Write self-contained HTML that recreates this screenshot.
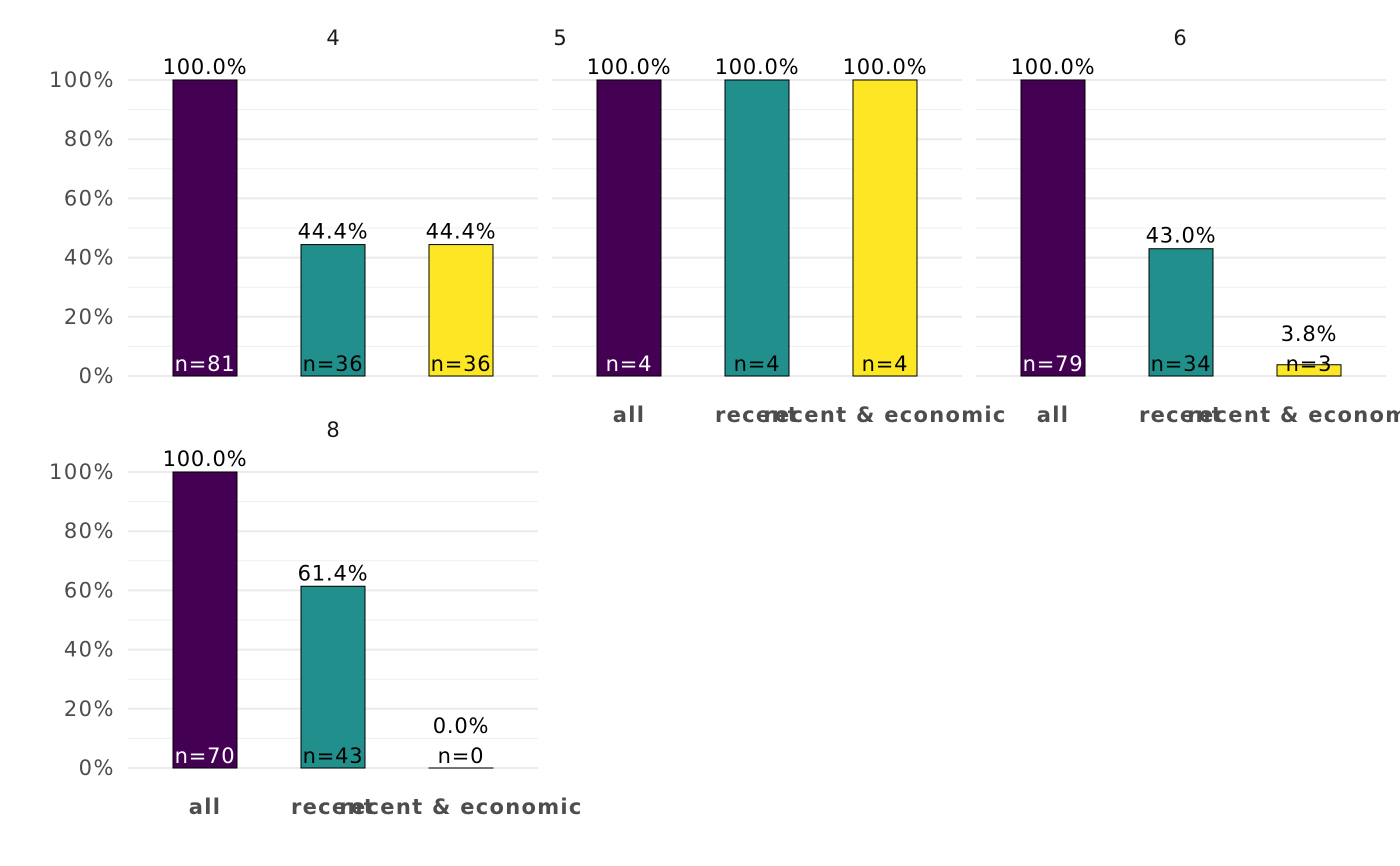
<!DOCTYPE html>
<html><head><meta charset="utf-8"><style>
body{margin:0;background:#fff}
svg{display:block;font-family:"DejaVu Sans","Liberation Sans",sans-serif}
</style></head><body>
<svg id="chart" width="1400" height="866" xmlns="http://www.w3.org/2000/svg"></svg>
<script>
const facets = ["4","5","6","8"];
const categories = ["all","recent","recent & economic"];
const pctValues = [[100,44.4,44.4],[100,100,100],[100,43.0,3.8],[100,61.4,0.0]];
const nValues = [[81,36,36],[4,4,4],[79,34,3],[70,43,0]];
const yTicks = [0,20,40,60,80,100];
const colors = ["#440154","#21908C","#FDE725"];
const nColors = ["#fff","#000","#000"];
const panels = [
 {x0:128,y0:376,title:"4",titleX:333,titleY:38,xlab:false},
 {x0:552,y0:376,title:"5",titleX:560,titleY:38,xlab:true},
 {x0:976,y0:376,title:"6",titleX:1180,titleY:38,xlab:true},
 {x0:128,y0:768,title:"8",titleX:333,titleY:430,xlab:true}
];
const svg = document.getElementById('chart');
const NS = "http://www.w3.org/2000/svg";
function mk(tag, attrs, txt){const e=document.createElementNS(NS,tag);for(const k in attrs)e.setAttribute(k,attrs[k]);if(txt!==undefined)e.textContent=txt;svg.appendChild(e);return e;}
const W=410, H=296;
panels.forEach((p,pi)=>{
  const y = v => p.y0 - v/100*H;
  const x = i => p.x0 + 77 + i*128;
  for(let v=10; v<100; v+=20){
    const g=mk('line',{x1:p.x0,x2:p.x0+W,y1:y(v),y2:y(v),stroke:'#efefef','stroke-width':1});
    
    
  }
  yTicks.forEach(t=>{
    const g=mk('line',{x1:p.x0,x2:p.x0+W,y1:y(t),y2:y(t),stroke:'#ebebeb','stroke-width':2});
    
    
    if(p.x0===128){
      const l=mk('text',{x:115,y:y(t)+7,'text-anchor':'end','font-size':21,'letter-spacing':1.5,fill:'#4d4d4d'},t+'%');
      
      
    }
  });
  const tt=mk('text',{x:p.titleX,y:p.titleY+7,'text-anchor':'middle','font-size':21,fill:'#1a1a1a'},p.title);
  
  
  categories.forEach((c,i)=>{
    const v=pctValues[pi][i], cx=x(i);
    const r=mk('rect',{x:cx-32,y:y(v),width:64,height:Math.max(y(0)-y(v),0.01),fill:colors[i],stroke:'#000','stroke-width':1});
    
    
    const ly=Math.min(y(v)-13, y(0)-42);
    const vl=mk('text',{x:cx,y:ly+7,'text-anchor':'middle','font-size':21,'letter-spacing':0.8,fill:'#000'},v.toFixed(1)+'%');
    
    
    const nl=mk('text',{x:cx,y:y(0)-5,'text-anchor':'middle','font-size':21,'letter-spacing':0.8,fill:v>8?nColors[i]:'#000'},'n='+nValues[pi][i]);
    
    
    if(p.xlab){
      const xl=mk('text',{x:cx,y:p.y0+46,'text-anchor':'middle','font-size':21,'font-weight':'bold','letter-spacing':1.3,fill:'#4d4d4d'},c);
      
      
    }
  });
});
</script>
</body></html>
